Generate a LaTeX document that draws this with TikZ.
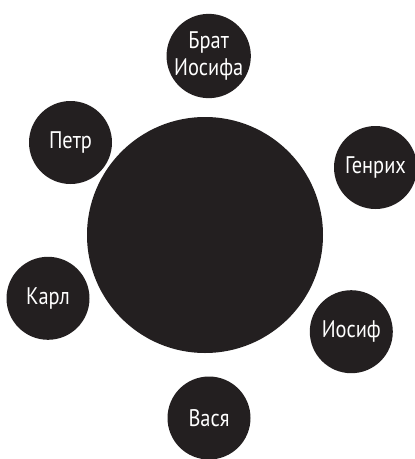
\documentclass[tikz,border=0pt]{standalone}
\usepackage{fontspec}
\setmainfont{PT Sans}[FakeStretch=0.85]
\definecolor{ink}{HTML}{231F20}
\begin{document}
\begin{tikzpicture}[x=1pt,y=-1pt,
  person/.style={circle, fill=ink, minimum size=83pt, inner sep=0pt, text=white,
    font=\fontsize{24}{27}\selectfont, align=center},
  hub/.style={circle, fill=ink, minimum size=236pt, inner sep=0pt}]
\useasboundingbox (0,0) rectangle (415,459);
\node[hub] (c) at (205,235) {};
\node[person] (brat) at (208.7,56) {Брат\\Иосифа};
\node[person] (petr) at (70.5,142.5) {Петр};
\node[person] (genrih) at (375.5,167.5) {Генрих};
\node[person] (karl) at (48,298.3) {Карл};
\node[person] (iosif) at (351.3,331.7) {Иосиф};
\node[person] (vasya) at (209,418) {Вася};
\end{tikzpicture}
\end{document}
